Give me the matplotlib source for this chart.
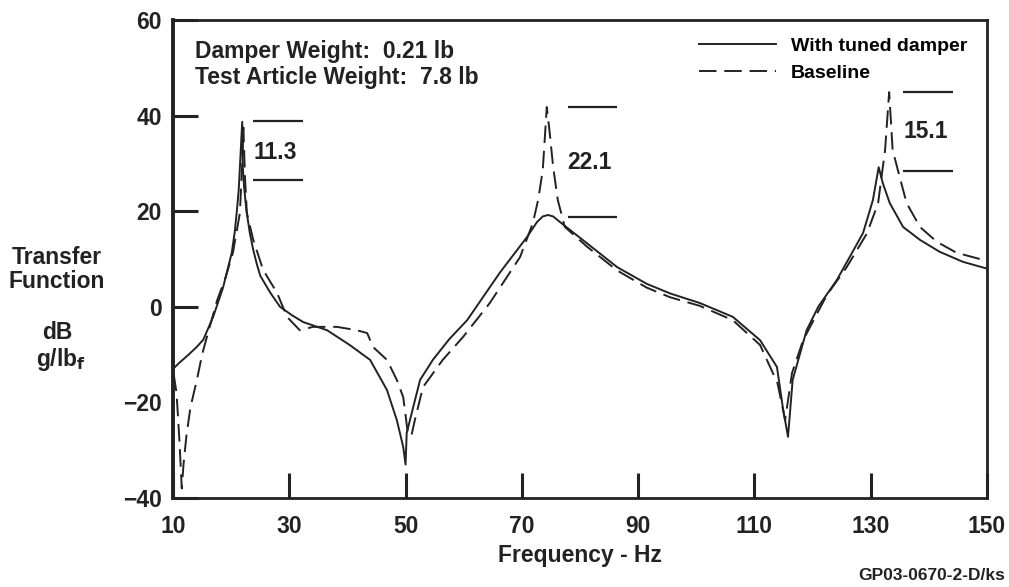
import matplotlib
matplotlib.use('Agg')
import matplotlib.pyplot as plt

plt.rcParams['font.family'] = ['Liberation Sans', 'DejaVu Sans']
plt.rcParams['font.weight'] = 'bold'

# with tuned damper (solid)
SOLID_F = [10.0, 11.0, 12.5, 14.0, 15.2, 16.9, 18.6, 20.1, 20.6, 21.0, 21.3,
           21.5, 21.9, 22.0, 22.2, 22.6, 23.2, 23.8, 24.4, 25.0, 26.7, 28.4,
           30.5, 32.4, 36.5, 40.4, 43.9, 46.8, 48.5, 49.6, 50.0, 50.2, 52.5,
           54.7, 57.5, 60.6, 66.2, 70.9, 72.6, 73.6, 74.5, 75.4, 76.6, 81.2,
           86.4, 91.5, 95.5, 100.6, 106.3, 111.0, 113.9, 114.9, 115.8, 116.6,
           119.0, 121.0, 124.2, 128.7, 130.4, 131.4, 132.1, 133.3, 135.6,
           138.5, 141.9, 145.9, 150.0]
SOLID_DB = [-13.0, -11.8, -10.2, -8.5, -6.9, -2.1, 4.0, 11.3, 15.5, 20.3,
            24.5, 29.2, 38.7, 29.2, 25.5, 20.3, 15.5, 11.9, 9.0, 6.5, 3.0, 0.0,
            -1.8, -3.2, -4.9, -8.0, -11.1, -17.4, -23.7, -29.3, -33.0, -26.4,
            -15.3, -11.1, -6.8, -2.8, 7.1, 14.6, 17.7, 18.9, 19.2, 18.9, 17.7,
            13.3, 8.3, 4.8, 2.8, 0.8, -2.1, -7.0, -12.6, -21.0, -27.2, -15.3,
            -4.9, 0.0, 5.6, 15.4, 22.3, 29.2, 25.9, 21.7, 16.7, 14.0, 11.5,
            9.4, 8.0]

# baseline (dashed)
BASE_F = [10.1, 10.6, 11.1, 11.5, 11.8, 12.3, 13.0, 14.1, 15.0, 16.0, 17.6,
          19.0, 20.3, 21.5, 21.9, 22.1, 22.4, 22.7, 23.8, 25.5, 27.9, 29.6,
          31.8, 34.1, 38.2, 41.6, 43.4, 44.4, 46.8, 48.5, 49.6, 50.4, 51.0,
          51.6, 53.0, 56.4, 59.9, 64.5, 69.7, 71.9, 72.8, 73.6, 74.3, 74.8,
          75.4, 76.2, 77.4, 81.2, 86.4, 91.5, 95.5, 100.6, 106.3, 111.0,
          114.0, 115.3, 116.5, 118.4, 119.6, 122.5, 125.9, 129.4, 131.3,
          132.5, 133.2, 133.8, 134.7, 136.2, 138.5, 141.4, 144.8, 150.0]
BASE_DB = [-14.0, -18.0, -28.0, -38.0, -33.0, -27.0, -21.0, -15.3, -10.0,
           -5.5, 1.4, 6.0, 11.3, 19.6, 30.0, 37.5, 26.5, 19.6, 14.0, 7.7, 2.9,
           -2.1, -4.9, -4.2, -4.2, -4.9, -5.5, -8.4, -11.1, -15.3, -18.9,
           -26.5, -27.0, -23.7, -16.8, -11.1, -6.3, 0.8, 10.4, 17.5, 22.3,
           28.5, 41.8, 36.4, 29.2, 22.3, 16.7, 12.6, 7.6, 4.0, 2.0, 0.2, -2.8,
           -8.0, -16.0, -23.7, -13.8, -7.0, -4.2, 2.5, 8.3, 15.4, 21.7, 32.8,
           44.9, 32.8, 28.6, 21.7, 16.7, 13.6, 11.3, 9.6]

# peak reduction markers: label, x range, upper/lower level, label level
MARK_LABELS = ['11.3', '22.1', '15.1']
MARK_X0 = [23.8, 77.9, 135.6]
MARK_X1 = [32.4, 86.4, 144.2]
MARK_HI = [38.9, 41.8, 44.9]
MARK_LO = [26.5, 18.8, 28.4]
MARK_TXT = [32.2, 30.1, 36.6]

X_TICKS = [10, 30, 50, 70, 90, 110, 130, 150]
Y_TICKS = [-40, -20, 0, 20, 40, 60]

FS = 16.5
INK = '#222222'


def main():
    fig = plt.figure(figsize=(10.09, 5.87), dpi=100)
    ax = fig.add_axes([0.1715, 0.1516, 0.8065, 0.8144])

    ax.plot(SOLID_F, SOLID_DB, color=INK, lw=1.4, label='With tuned damper')
    ax.plot(BASE_F, BASE_DB, color=INK, lw=1.4, dashes=(9, 4),
            label='Baseline')

    for lab, x0, x1, hi, lo, ty in zip(MARK_LABELS, MARK_X0, MARK_X1,
                                       MARK_HI, MARK_LO, MARK_TXT):
        ax.hlines([hi, lo], x0, x1, color=INK, lw=1.6)
        ax.text(x0, ty, lab, fontsize=FS, va='center', ha='left', color=INK)

    ax.text(13.8, 53.3, 'Damper Weight:  0.21 lb', fontsize=FS, va='center',
            color=INK)
    ax.text(13.8, 47.9, 'Test Article Weight:  7.8 lb', fontsize=FS,
            va='center', color=INK)

    ax.legend(loc='upper right', bbox_to_anchor=(1.0, 1.005), frameon=False,
              fontsize=14, handlelength=4.0, handletextpad=0.75,
              labelspacing=0.5, borderaxespad=0.6)

    ax.set_xlim(10, 150)
    ax.set_ylim(-40, 60)
    ax.set_xticks(X_TICKS)
    ax.set_yticks(Y_TICKS)
    ax.set_yticklabels([str(v).replace('-', '\u2212') for v in Y_TICKS])
    ax.tick_params(direction='in', length=18, width=2.2, labelsize=FS,
                   colors=INK)
    ax.tick_params(axis='x', pad=12)
    ax.tick_params(axis='y', pad=8)
    ax.yaxis.get_major_ticks()[1].tick1line.set_visible(False)
    for side in ['top', 'right', 'bottom']:
        ax.spines[side].set_linewidth(2.0)
        ax.spines[side].set_color(INK)
    ax.spines['left'].set_linewidth(2.8)
    ax.spines['left'].set_color(INK)

    fig.text(0.0565, 0.562, 'Transfer', fontsize=FS, ha='center', va='center',
             color=INK)
    fig.text(0.0565, 0.521, 'Function', fontsize=FS, ha='center', va='center',
             color=INK)
    fig.text(0.0565, 0.433, 'dB', fontsize=FS, ha='center', va='center',
             color=INK)
    fig.text(0.0600, 0.387, r'g/lb$_\mathbf{f}$', fontsize=FS,
             ha='center', va='center', color=INK)
    fig.text(0.575, 0.0545, 'Frequency - Hz', fontsize=FS, ha='center',
             va='center', color=INK)
    fig.text(0.996, 0.02, 'GP03-0670-2-D/ks', fontsize=12.5, ha='right',
             va='center', color=INK)

    fig.savefig('out.png', dpi=100)


if __name__ == '__main__':
    main()
